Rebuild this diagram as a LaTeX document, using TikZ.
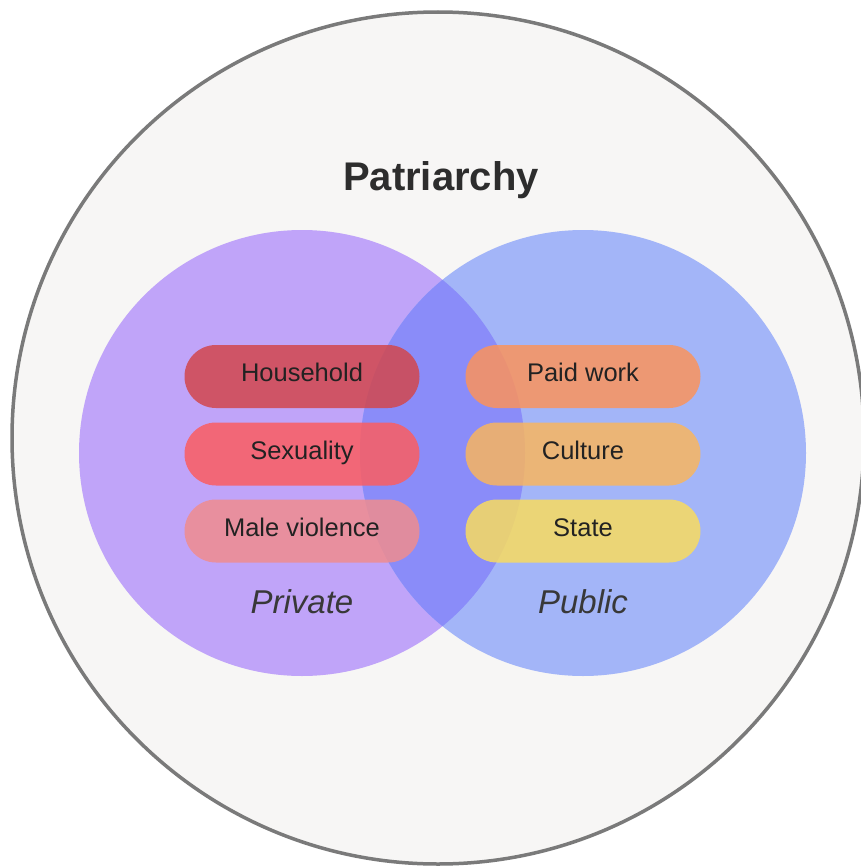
\documentclass[tikz,border=0pt]{standalone}
\usepackage{fontspec}
\setmainfont{Liberation Sans}
\definecolor{bgc}{RGB}{247,246,245}
\definecolor{rimc}{RGB}{122,122,122}
\definecolor{purc}{RGB}{192,164,249}
\definecolor{bluc}{RGB}{163,181,248}
\definecolor{midc}{RGB}{138,140,249}
\definecolor{hhc}{RGB}{210,71,77}
\definecolor{sxc}{RGB}{251,93,97}
\definecolor{mvc}{RGB}{240,140,143}
\definecolor{pwc}{RGB}{251,147,92}
\definecolor{cuc}{RGB}{248,181,96}
\definecolor{stc}{RGB}{248,219,96}
\definecolor{txc}{RGB}{34,34,34}
\tikzset{
  pill/.style={rectangle, rounded corners=31.5pt, minimum width=235pt, minimum height=63pt,
    inner sep=0pt, fill opacity=0.85, text opacity=1, text=txc,
    text height=10pt, text depth=0pt,
    font=\fontsize{25.5}{30}\selectfont},
  arealabel/.style={font=\fontsize{33}{40}\selectfont\itshape, text=txc!90!white},
}
\begin{document}
\begin{tikzpicture}[x=1pt,y=-1pt]
\useasboundingbox (0,0) rectangle (860,867);
\fill[white] (0,0) rectangle (860,867);
\node[circle, minimum size=852pt, inner sep=0pt, fill=bgc, draw=rimc, line width=3.5pt] (outer) at (438,438) {};
\node[circle, minimum size=446pt, inner sep=0pt, fill=purc] (priv) at (302,453) {};
\node[circle, minimum size=446pt, inner sep=0pt, fill=bluc] (pub) at (583,453) {};
\begin{scope}
  \clip (302,453) circle (223);
  \fill[midc] (583,453) circle (223);
\end{scope}
\node[font=\fontsize{40}{48}\selectfont\bfseries, text=txc!95!white] (title) at (441,180) {Patriarchy};
\node[pill, fill=hhc] (hh) at (302,376.5) {Household};
\node[pill, fill=sxc] (sx) at (302,454) {Sexuality};
\node[pill, fill=mvc] (mv) at (302,531) {Male violence};
\node[pill, fill=pwc] (pw) at (583,376.5) {Paid work};
\node[pill, fill=cuc] (cu) at (583,454) {Culture};
\node[pill, fill=stc] (st) at (583,531) {State};
\node[arealabel] (plab) at (302,602) {Private};
\node[arealabel] (ulab) at (583,602) {Public};
\end{tikzpicture}
\end{document}
